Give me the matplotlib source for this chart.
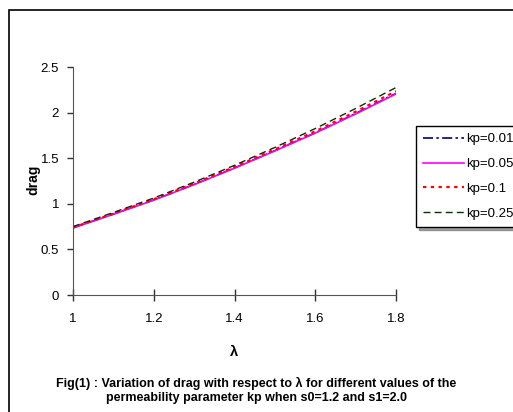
import matplotlib.pyplot as plt
from matplotlib.patches import Rectangle

plt.rcParams['font.family'] = ['Liberation Sans', 'DejaVu Sans']

# --- data ---
lam = [1.0, 1.1, 1.2, 1.3, 1.4, 1.5, 1.6, 1.7, 1.8]
drag_kp001 = [0.737, 0.887, 1.042, 1.212, 1.393, 1.583, 1.778, 1.990, 2.210]
drag_kp005 = [0.735, 0.885, 1.040, 1.210, 1.390, 1.580, 1.775, 1.985, 2.205]
drag_kp01 = [0.740, 0.893, 1.050, 1.222, 1.405, 1.597, 1.795, 2.010, 2.235]
drag_kp025 = [0.750, 0.905, 1.063, 1.237, 1.422, 1.618, 1.825, 2.045, 2.275]
labels = ['kp=0.01', 'kp=0.05', 'kp=0.1', 'kp=0.25']

W, H = 513, 412
fig = plt.figure(figsize=(W / 100, H / 100), dpi=100)
ax = fig.add_axes([73/W, 1 - 295/H, 323/W, 228/H])

# outer frame (cut off at right/bottom like the original)
fig.patches.append(Rectangle((9/W, -0.1), 1.2, 1 - 10/H + 0.1,
                             transform=fig.transFigure, fill=False,
                             edgecolor='black', linewidth=1.2))

ax.plot(lam, drag_kp001, color='#000080', linestyle=(0, (6, 2, 1.5, 2)), lw=1.2, label=labels[0])
ax.plot(lam, drag_kp005, color='#FF00FF', linestyle='-', lw=1.2, label=labels[1])
ax.plot(lam, drag_kp01, color='#FF0000', linestyle=(0, (1.5, 2)), lw=1.6, label=labels[2])
ax.plot(lam, drag_kp025, color='#003300', linestyle=(0, (5, 3)), lw=1.0, label=labels[3])

ax.set_xlim(1, 1.8)
ax.set_ylim(0, 2.5)
ax.set_xticks([1, 1.2, 1.4, 1.6, 1.8])
ax.set_xticklabels(['1', '1.2', '1.4', '1.6', '1.8'])
ax.set_yticks([0, 0.5, 1, 1.5, 2, 2.5])
ax.set_yticklabels(['0', '0.5', '1', '1.5', '2', '2.5'])
for s in ['top', 'right']:
    ax.spines[s].set_visible(False)
for s in ['left', 'bottom']:
    ax.spines[s].set_color('#555555')
ax.tick_params(axis='x', direction='inout', length=8, width=1, color='#333333',
               labelsize=9.5, pad=9)
ax.tick_params(axis='y', direction='out', length=4, width=1, color='#333333',
               labelsize=9.5, pad=6)

fig.text(234/W, 1 - 352/H, 'λ', ha='center', va='center', fontweight='bold', fontsize=10.5)
fig.text(33/W, 1 - 180/H, 'drag', ha='center', va='center', rotation=90,
         fontweight='bold', fontsize=10)

leg = fig.legend(loc='upper left', bbox_to_anchor=(416/W, 1 - 126/H),
                 fontsize=9.5, frameon=True, fancybox=False, shadow=True,
                 handlelength=3.1, handletextpad=0.15, labelspacing=0.95,
                 borderpad=0.55, borderaxespad=0)
leg.get_frame().set_edgecolor('black')
leg.get_frame().set_linewidth(1.0)

fig.text(256/W, 1 - 383/H, 'Fig(1) : Variation of drag with respect to λ for different values of the',
         ha='center', va='center', fontsize=9, fontweight='bold')
fig.text(256/W, 1 - 398/H, 'permeability parameter kp when s0=1.2 and s1=2.0',
         ha='center', va='center', fontsize=9, fontweight='bold')

fig.savefig('out.png', dpi=100)
